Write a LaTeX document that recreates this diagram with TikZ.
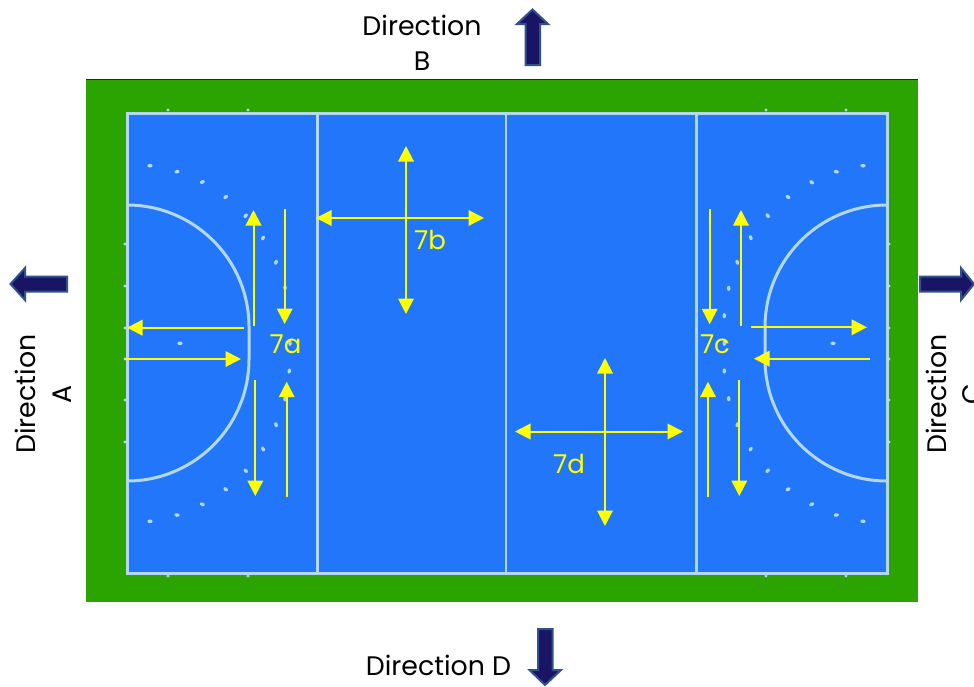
\documentclass[tikz,border=0pt]{standalone}
\usepackage{fontspec}
\setmainfont{Poppins}
\usetikzlibrary{arrows.meta}
\definecolor{turf}{HTML}{2BA300}
\definecolor{court}{HTML}{2176FA}
\definecolor{courtline}{HTML}{B4D8F2}
\definecolor{navyfill}{HTML}{1A1464}
\definecolor{navyedge}{HTML}{2F528F}
\definecolor{flowy}{HTML}{FFFF00}
\tikzset{
  flow/.style={draw=flowy,line width=2pt,-{Triangle[length=15.5pt,width=15.5pt]}},
  flowboth/.style={draw=flowy,line width=2pt,{Triangle[length=15.5pt,width=15.5pt]}-{Triangle[length=15.5pt,width=15.5pt]}},
  pitchline/.style={draw=courtline,line width=3pt},
  blockarrow/.style={fill=navyfill,draw=navyedge,line width=2pt,line join=miter},
  dirtext/.style={font=\fontsize{26.8}{26.8}\selectfont,text=black,inner sep=0pt,anchor=base},
  zonetext/.style={font=\fontsize{26}{26}\selectfont,text=flowy,inner sep=0pt,anchor=center},
}
\newcommand{\flowarrow}[4][flow]{%
  \coordinate (#2-s) at #3; \coordinate (#2-e) at #4;
  \draw[#1] (#2-s) -- (#2-e);}
\begin{document}
\begin{tikzpicture}[x=1pt,y=-1pt]
\useasboundingbox (0,0) rectangle (974,686);
\clip (0,0) rectangle (974,686);
% surround and court
\fill[turf] (86,79) rectangle (918,602);
\draw[black!85,line width=1pt] (86,79.5) -- (918,79.5);
\fill[court] (127,113) rectangle (887,573);
% tick marks
\foreach \x in {168,248,766,846} {
  \fill[courtline] (\x,110) circle (1.7);
  \fill[courtline] (\x,576) circle (1.7);
}
\foreach \y in {244,286,328,359,400,442} {
  \fill[courtline] (125,\y) circle (1.7);
  \fill[courtline] (889,\y) circle (1.7);
}
% court lines
\draw[pitchline] (127,113) rectangle (887,573);
\draw[pitchline] (317,113) -- (317,573);
\draw[pitchline,line width=2.4pt] (506,113) -- (506,573);
\draw[pitchline,line width=2.4pt] (696.5,113) -- (696.5,573);
% shooting circles
\draw[pitchline] (127,205) arc[start angle=-90,end angle=0,radius=122] -- (249,359) arc[start angle=0,end angle=90,radius=122];
\draw[pitchline] (887,205) arc[start angle=-90,end angle=-180,radius=122] -- (765,359) arc[start angle=180,end angle=90,radius=122];
% dashed circle dots
\foreach \x/\y/\a in {150/165.7/0,177/171.7/15,202.3/182/25,225.7/197/35,245.7/215.7/50,263/238/60,276/262.3/65,285/287.7/90,290/343.3/90,289.3/371/75,180/343.3/0,
  150/521.3/0,177/515/-12,202.3/504.3/-20,225.7/489.3/-40,245.7/470.7/-45,263/449/-65,276/424.7/-70,285/399/-90,
  863/165.7/0,836.3/171.7/-15,811.7/182.3/-35,788/197/-30,767.7/215.7/-50,750.7/237.7/-65,737.3/262.3/-65,728.7/288.3/90,724.3/315.7/90,724.3/343.3/90,724.3/371/90,833/343.3/0,
  863/521.3/0,836.3/515/12,811.7/504.3/25,788/489.3/30,767.7/470.7/45,750.7/449/60,737.3/424.7/70,728.7/398.7/90} {
  \fill[courtline,rotate around={\a:(\x,\y)}] (\x,\y) ellipse (2.6 and 1.8);
}
% yellow flows, zone a
\flowarrow{a1}{(253.5,326)}{(253.5,210)}
\flowarrow{a2}{(284.7,209)}{(284.7,324)}
\flowarrow{a3}{(244,327.7)}{(127,327.7)}
\flowarrow{a4}{(125,359)}{(241,359)}
\flowarrow{a5}{(255.3,380)}{(255.3,496)}
\flowarrow{a6}{(286.7,497)}{(286.7,381.7)}
% zone c
\flowarrow{c1}{(709.7,209)}{(709.7,324.3)}
\flowarrow{c2}{(741,326)}{(741,210)}
\flowarrow{c3}{(751,327.3)}{(867,327.3)}
\flowarrow{c4}{(870,358.7)}{(754,358.7)}
\flowarrow{c5}{(708,497)}{(708,381.7)}
\flowarrow{c6}{(739.3,380)}{(739.3,496)}
% zones b and d
\flowarrow[flowboth]{b1}{(406,146)}{(406,314)}
\flowarrow[flowboth]{b2}{(316,218)}{(484,218)}
\flowarrow[flowboth]{d1}{(605,358)}{(605,526)}
\flowarrow[flowboth]{d2}{(515,431.5)}{(683,431.5)}
% zone labels
\node[zonetext] (la) at (285.5,344) {7a};
\node[zonetext] (lb) at (430,240) {7b};
\node[zonetext] (lc) at (715,344) {7c};
\node[zonetext] (ld) at (569,464) {7d};
% block arrows
\draw[blockarrow] (525.5,65) -- (525.5,24) -- (517,24) -- (532.5,9.5) -- (548,24) -- (540,24) -- (540,65) -- cycle;
\draw[blockarrow] (538,629) -- (538,670) -- (529.5,670) -- (545,685) -- (561,670) -- (552.5,670) -- (552.5,629) -- cycle;
\draw[blockarrow] (920,276.5) -- (961,276.5) -- (961,268) -- (974,284) -- (961,300) -- (961,291.5) -- (920,291.5) -- cycle;
\draw[blockarrow] (67,276.5) -- (25,276.5) -- (25,268) -- (10.5,284) -- (25,300) -- (25,291.5) -- (67,291.5) -- cycle;
% direction labels
\node[dirtext] (db1) at (422,35) {Direction};
\node[dirtext] (db2) at (422,70) {B};
\node[dirtext] (dd) at (438.5,675) {Direction D};
\node[dirtext,rotate=90] (da1) at (35.5,394) {Direction};
\node[dirtext,rotate=90] (da2) at (71,394) {A};
\node[dirtext,rotate=90] (dc1) at (946.7,394) {Direction};
\node[dirtext,rotate=90] (dc2) at (981.7,394) {C};
\end{tikzpicture}
\end{document}
